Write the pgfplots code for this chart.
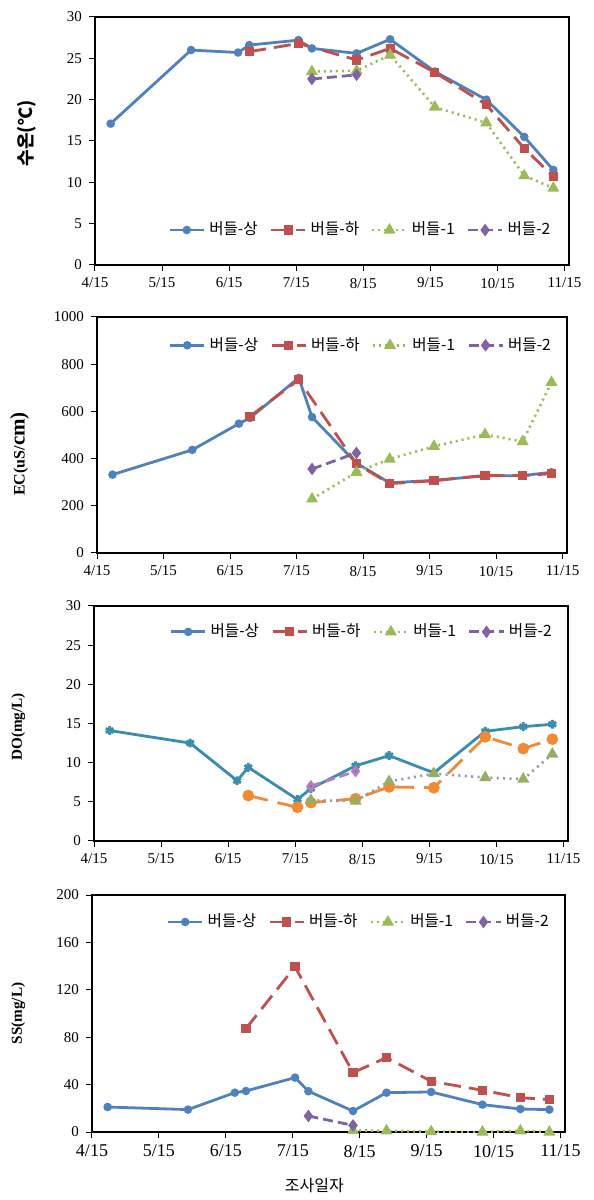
\documentclass[border=0pt]{standalone}
\usepackage{fontspec}
\setmainfont{Liberation Serif}
\newfontfamily\kr{Noto Sans CJK KR}
\usepackage{pgfplots}
\pgfplotsset{compat=1.18}
\definecolor{cBlue}{HTML}{4F81BD}
\definecolor{cRed}{HTML}{C0504D}
\definecolor{cGreen}{HTML}{9BBB59}
\definecolor{cPurple}{HTML}{8064A2}
\definecolor{cTeal}{HTML}{3B8DB0}
\definecolor{cOrange}{HTML}{F08A35}
\definecolor{cGrey}{HTML}{8C9BB0}
\definecolor{cPink}{HTML}{B57FBE}
\pgfplotsset{
  panel/.style={
    scale only axis, width=237pt,
    xmin=0, xmax=212,
    xtick={0,30,60,90,120,150,180,210},
    xticklabels={4/15,5/15,6/15,7/15,8/15,9/15,10/15,11/15},
    tick align=outside, xtick pos=bottom, ytick pos=left,
    major tick length=3pt,
    tick style={black, line width=0.5pt},
    axis line style={black, line width=0.6pt},
    tick label style={font=\fontsize{7.5}{9}\selectfont},
    /pgf/number format/assume math mode=true,
    /pgf/number format/1000 sep={},
    legend style={draw=none, fill=none, font=\kr\fontsize{7.8}{9}\selectfont,
      anchor=east, /tikz/every even column/.append style={column sep=4pt},
      inner sep=0pt},
    legend columns=4,
    legend cell align=left,
  },
  sA/.style={cBlue, line width=1.4pt, mark=*, mark size=1.4pt, mark options={solid}},
  sB/.style={cRed, line width=1.4pt, dash pattern=on 8.5pt off 4pt, mark=square*, mark size=1.6pt, mark options={solid}},
  sC/.style={cGreen, line width=1.3pt, dash pattern=on 1pt off 2pt, mark=triangle*, mark size=2.2pt, mark options={solid}},
  sD/.style={cPurple, line width=1.4pt, dash pattern=on 5pt off 2.5pt, mark=diamond*, mark size=2pt, mark options={solid}},
}
\begin{document}
\begin{tikzpicture}
\useasboundingbox (0,0) rectangle (297pt,600pt);

% ---- Panel 1: water temperature
\begin{axis}[panel, at={(47.5pt,467.5pt)}, anchor=south west, height=124pt,
  ymin=0, ymax=30, ytick={0,5,...,30},
  ylabel={\kr\bfseries\fontsize{9}{10}\selectfont 수온(℃)},
  ylabel style={at={(axis description cs:-0.143,0.53)}, anchor=center},
  legend style={at={(axis description cs:0.97,0.141)}}]
\addplot[sA] coordinates {(7,17.1)(43,26.0)(64,25.7)(69,26.6)(91,27.2)(97,26.2)(117,25.6)(132,27.3)(152,23.4)(175,20.0)(192,15.5)(205,11.5)};
\addplot[sB] coordinates {(69,25.8)(91,26.8)(117,24.8)(132,26.2)(152,23.3)(175,19.4)(192,14.1)(205,10.7)};
\addplot[sC] coordinates {(97,23.4)(117,23.5)(132,25.4)(152,19.1)(175,17.2)(192,10.8)(205,9.3)};
\addplot[sD] coordinates {(97,22.5)(117,23.0)};
\legend{버들-상,버들-하,버들-1,버들-2}
\end{axis}

% ---- Panel 2: EC
\begin{axis}[panel, at={(48.5pt,323.5pt)}, anchor=south west, height=118pt, width=235pt,
  ymin=0, ymax=1000, ytick={0,200,...,1000},
  ylabel={\bfseries\fontsize{8}{9}\selectfont EC(uS/{\fontsize{10.5}{12}\selectfont cm)}},
  ylabel style={at={(axis description cs:-0.165,0.42)}, anchor=center},
  legend style={at={(axis description cs:0.975,0.88)}}]
\addplot[sA] coordinates {(7,332)(43,437)(64,548)(69,572)(91,742)(97,576)(117,381)(132,297)(152,308)(175,327)(192,328)(205,342)};
\addplot[sB] coordinates {(69,579)(91,734)(117,378)(132,294)(152,306)(175,329)(192,328)(205,336)};
\addplot[sC] coordinates {(97,229)(117,342)(132,398)(152,452)(175,502)(192,472)(205,723)};
\addplot[sD] coordinates {(97,356)(117,424)};
\legend{버들-상,버들-하,버들-1,버들-2}
\end{axis}

% ---- Panel 3: DO
\begin{axis}[panel, at={(47pt,179.5pt)}, anchor=south west, height=117.5pt, width=237pt,
  ymin=0, ymax=30, ytick={0,5,...,30},
  ylabel={\bfseries\fontsize{7.6}{9}\selectfont DO(mg/L)},
  ylabel style={at={(axis description cs:-0.16,0.485)}, anchor=center},
  legend style={at={(axis description cs:0.975,0.89)}}]
\addlegendimage{sA}
\addlegendimage{sB}
\addlegendimage{sC}
\addlegendimage{sD}
\addplot[cTeal, line width=1.4pt, mark=asterisk, mark size=2.2pt, mark options={solid}, forget plot] coordinates {(7,14.1)(43,12.5)(64,7.7)(69,9.4)(91,5.3)(97,6.7)(117,9.6)(132,10.9)(152,8.7)(175,14.0)(192,14.6)(205,14.9)};
\addplot[cOrange, line width=1.4pt, dash pattern=on 10pt off 5pt, mark=*, mark size=2.2pt, mark options={solid}, forget plot] coordinates {(69,5.8)(91,4.3)(97,4.9)(117,5.4)(132,6.9)(152,6.8)(175,13.3)(192,11.8)(205,13.0)};
\addplot[cGrey, line width=1.3pt, dash pattern=on 1pt off 2.2pt, mark=triangle*, mark size=2.2pt, mark options={solid, fill=cGreen!80!gray, draw=cGreen!80!gray}, forget plot] coordinates {(97,5.2)(117,5.1)(132,7.6)(152,8.6)(175,8.1)(192,7.9)(205,11.1)};
\addplot[cPink, line width=1.4pt, dash pattern=on 5pt off 2.5pt, mark=diamond*, mark size=2pt, mark options={solid, fill=cPurple}, forget plot] coordinates {(97,7.0)(117,8.9)};
\legend{버들-상,버들-하,버들-1,버들-2}
\end{axis}

% ---- Panel 4: SS
\begin{axis}[panel, at={(46pt,34pt)}, anchor=south west, height=118.5pt, width=236.5pt,
  ymin=0, ymax=200, ytick={0,40,...,200},
  xticklabel style={font=\fontsize{9}{10}\selectfont},
  ylabel={\bfseries\fontsize{7.6}{9}\selectfont SS(mg/L)},
  ylabel style={at={(axis description cs:-0.156,0.5)}, anchor=center},
  xlabel={\kr\fontsize{8}{9}\selectfont 조사일자},
  xlabel style={at={(axis description cs:0.47,-0.224)}, anchor=center},
  legend style={at={(axis description cs:0.975,0.886)}}]
\addplot[sA] coordinates {(7,21.1)(43,18.9)(64,33.2)(69,34.6)(91,45.9)(97,34.4)(117,17.7)(132,33.2)(152,33.8)(175,23.1)(192,19.4)(205,18.9)};
\addplot[sB] coordinates {(69,87.3)(91,139.4)(117,50.1)(132,62.8)(152,42.8)(175,35.2)(192,29.0)(205,27.3)};
\addplot[sC] coordinates {(117,1.4)(132,1.0)(152,0.3)(175,0.0)(192,1.0)(205,0.0)};
\addplot[sD] coordinates {(97,13.5)(117,5.6)};
\legend{버들-상,버들-하,버들-1,버들-2}
\end{axis}
\end{tikzpicture}
\end{document}
